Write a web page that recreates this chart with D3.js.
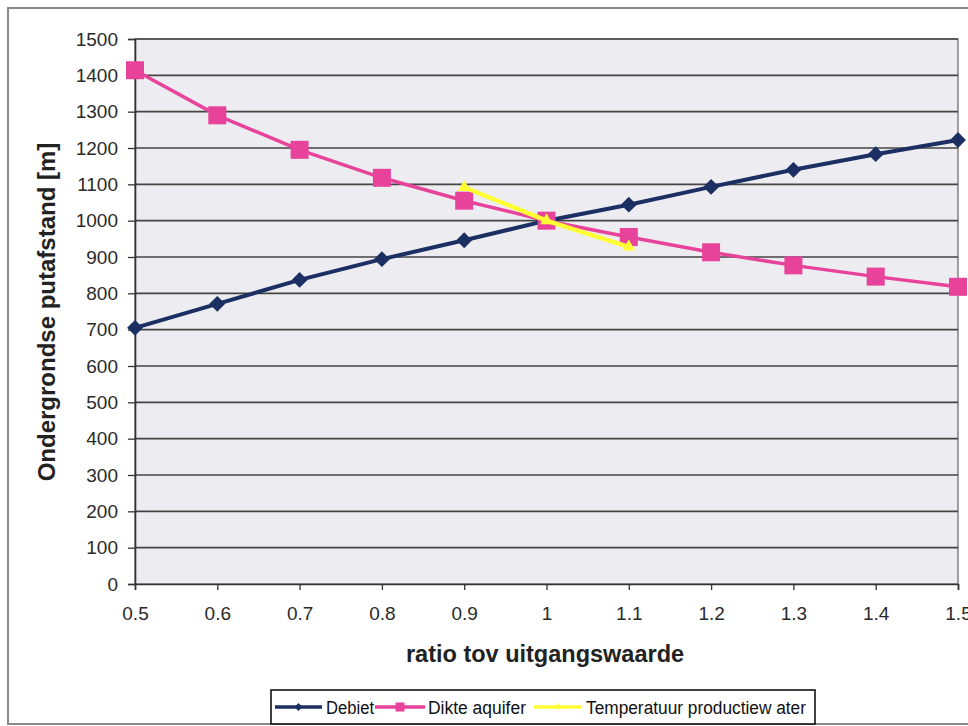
<!DOCTYPE html>
<html><head><meta charset="utf-8">
<script src="https://cdn.jsdelivr.net/npm/d3@7"></script>
<style>body{margin:0;background:#fff;}svg{display:block;font-family:Arial,"Liberation Sans",sans-serif;}</style>
</head><body>
<svg id="c" width="968" height="726"></svg>
<script>
const xTicks = [0.5,0.6,0.7,0.8,0.9,1,1.1,1.2,1.3,1.4,1.5];
const xTickLabels = ["0.5","0.6","0.7","0.8","0.9","1","1.1","1.2","1.3","1.4","1.5"];
const yTicks = [0,100,200,300,400,500,600,700,800,900,1000,1100,1200,1300,1400,1500];
const debietX = [0.5,0.6,0.7,0.8,0.9,1,1.1,1.2,1.3,1.4,1.5];
const debietY = [705,771,837,894,946,1000,1044,1093,1140,1183,1222];
const dikteX = [0.5,0.6,0.7,0.8,0.9,1,1.1,1.2,1.3,1.4,1.5];
const dikteY = [1414,1290,1195,1118,1055,1000,955,913,877,846,818];
const tempX = [0.9,1,1.1];
const tempY = [1092,1000,928];
const seriesNames = ["Debiet","Dikte aquifer","Temperatuur productiew ater"];

const svg = d3.select("#c");
const L=135,R=958,T=39,B=584;
const x = d3.scaleLinear().domain([0.5,1.5]).range([L,R]);
const y = d3.scaleLinear().domain([0,1500]).range([B,T]);
const FONT = "Arial,'Liberation Sans',sans-serif";

// outer frame
svg.append("rect").attr("x",8).attr("y",8).attr("width",975).attr("height",716)
  .attr("fill","#fff").attr("stroke","#8a8a8a").attr("stroke-width",2);

// plot bg
svg.append("rect").attr("x",L).attr("y",T).attr("width",R-L).attr("height",B-T)
  .attr("fill","#ececf1").attr("stroke","#666").attr("stroke-width",1.2);

// gridlines
svg.append("g").selectAll("line").data(yTicks.filter(d=>d>0)).join("line")
  .attr("x1",L).attr("x2",R).attr("y1",d=>y(d)).attr("y2",d=>y(d))
  .attr("stroke","#444").attr("stroke-width",1.6);

// y axis
const ya = svg.append("g").attr("transform",`translate(${L},0)`)
  .call(d3.axisLeft(y).tickValues(yTicks).tickSize(7).tickPadding(10).tickFormat(d3.format("d")));
ya.select(".domain").attr("stroke","#333").attr("stroke-width",1.6);
ya.selectAll(".tick line").attr("stroke","#333").attr("stroke-width",1.3);
ya.selectAll("text").attr("font-size",19).attr("fill","#2a2a2a").attr("font-family",FONT);

// x axis
const xa = svg.append("g").attr("transform",`translate(0,${B})`)
  .call(d3.axisBottom(x).tickValues(xTicks).tickSize(6).tickPadding(17).tickFormat((d,i)=>xTickLabels[i]));
xa.select(".domain").attr("stroke","#333").attr("stroke-width",1.6);
xa.selectAll(".tick line").attr("stroke","#333").attr("stroke-width",1.3);
xa.selectAll("text").attr("font-size",19).attr("fill","#2a2a2a").attr("font-family",FONT);

// titles
svg.append("text").attr("transform","translate(55,312) rotate(-90)").attr("text-anchor","middle")
  .attr("font-size",24).attr("font-weight","bold").attr("fill","#222").text("Ondergrondse putafstand [m]");
svg.append("text").attr("x",545).attr("y",662).attr("text-anchor","middle")
  .attr("font-size",23.5).attr("font-weight","bold").attr("fill","#222").text("ratio tov uitgangswaarde");

const line = d3.line().x(d=>x(d[0])).y(d=>y(d[1]));
const navy="#1b2f63", pink="#e8439b", yellow="#ffff33";

function zip(a,b){return a.map((v,i)=>[v,b[i]]);}

// Debiet
const dd = zip(debietX,debietY);
svg.append("path").attr("d",line(dd)).attr("fill","none").attr("stroke",navy).attr("stroke-width",4);
svg.append("g").selectAll("path").data(dd).join("path")
  .attr("transform",d=>`translate(${x(d[0])},${y(d[1])})`)
  .attr("d",d3.symbol(d3.symbolDiamond2,160)()).attr("fill",navy);

// Dikte
const dk = zip(dikteX,dikteY);
svg.append("path").attr("d",line(dk)).attr("fill","none").attr("stroke",pink).attr("stroke-width",3.5);
svg.append("g").selectAll("rect").data(dk).join("rect")
  .attr("x",d=>x(d[0])-9).attr("y",d=>y(d[1])-9).attr("width",18).attr("height",18).attr("fill",pink);

// Temperatuur
const tp = zip(tempX,tempY);
svg.append("path").attr("d",line(tp)).attr("fill","none").attr("stroke",yellow).attr("stroke-width",4.5);
svg.append("g").selectAll("path").data(tp).join("path")
  .attr("transform",d=>`translate(${x(d[0])},${y(d[1])})`)
  .attr("d",d3.symbol(d3.symbolTriangle,70)()).attr("fill",yellow);

// legend
const lg = svg.append("g");
lg.append("rect").attr("x",271).attr("y",690).attr("width",544).attr("height",34)
  .attr("fill","#fff").attr("stroke","#111").attr("stroke-width",1.6);
const items = [
  {name:seriesNames[0],x1:275,x2:322,c:navy,m:"d",tx:326,tw:48},
  {name:seriesNames[1],x1:375,x2:425,c:pink,m:"s",tx:428,tw:98},
  {name:seriesNames[2],x1:534,x2:582,c:yellow,m:"t",tx:586,tw:220}
];
items.forEach(it=>{
  const cy=707, cx=(it.x1+it.x2)/2;
  lg.append("line").attr("x1",it.x1).attr("x2",it.x2).attr("y1",cy).attr("y2",cy).attr("stroke",it.c).attr("stroke-width",3.5);
  if(it.m==="d") lg.append("path").attr("transform",`translate(${cx},${cy})`).attr("d",d3.symbol(d3.symbolDiamond2,40)()).attr("fill",it.c);
  if(it.m==="s") lg.append("rect").attr("x",cx-4.5).attr("y",cy-4.5).attr("width",9).attr("height",9).attr("fill",it.c);
  if(it.m==="t") lg.append("path").attr("transform",`translate(${cx},${cy})`).attr("d",d3.symbol(d3.symbolTriangle,20)()).attr("fill",it.c);
  lg.append("text").attr("x",it.tx).attr("y",cy+6.5).attr("font-size",18).attr("fill","#111")
    .attr("textLength",it.tw).attr("lengthAdjust","spacingAndGlyphs").text(it.name);
});
</script>
</body></html>
